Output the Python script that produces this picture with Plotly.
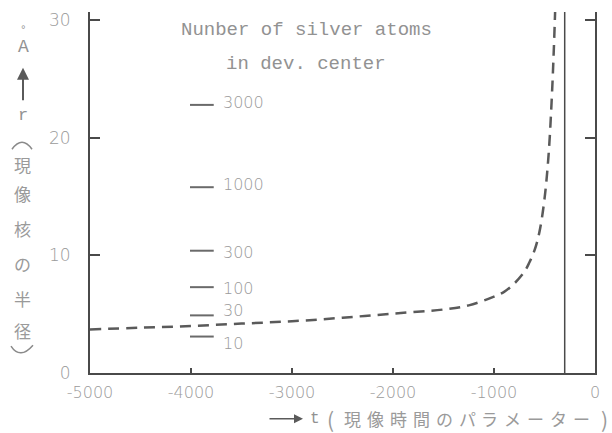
import plotly.graph_objects as go

# ---- data ----
t_vals = [-5000, -4500, -4000, -3500, -3000, -2500, -2000, -1500, -1250, -1000,
          -900, -800, -700, -650, -600, -550, -500, -460, -430, -410, -395]
r_vals = [3.7, 3.85, 4.0, 4.2, 4.4, 4.7, 5.05, 5.4, 5.75, 6.5,
          6.9, 7.6, 8.6, 9.4, 10.4, 12.0, 14.8, 18.5, 23.0, 27.0, 30.7]
asymptote_t = -300
atom_counts = ["3000", "1000", "300", "100", "30", "10"]
atom_r = [22.8, 15.8, 10.4, 7.3, 4.9, 3.1]
atom_label_shift = [2, 3, -2, -1, 5, -7]
x_ticks = [-5000, -4000, -3000, -2000, -1000, 0]
y_ticks = [0, 10, 20, 30]
ylabel_chars = ["現", "像", "核", "の", "半", "径"]
xlabel_chars = ["(", "現", "像", "時", "間", "の", "パ", "ラ", "メ", "ー", "タ", "ー", ")"]

W, H = 612, 433
L, R, T, B = 90, 17, 10, 60
PW, PH = W - L - R, H - T - B


def xp(px):
    return (px - L) / PW


def yp(py):
    return (H - B - py) / PH


AX = "#4a4a4a"
TXT = "#9a9a9a"
MONO = "#929292"

fig = go.Figure()

fig.add_trace(go.Scatter(
    x=t_vals, y=r_vals, mode="lines",
    line=dict(color="#5a5a5a", width=2.5, dash="11px,7px", shape="spline", smoothing=1.0),
    hoverinfo="skip", showlegend=False))

fig.add_trace(go.Scatter(
    x=[asymptote_t, asymptote_t], y=[0, 30.7], mode="lines",
    line=dict(color=AX, width=1.5), hoverinfo="skip", showlegend=False))

# scale marks for number of silver atoms
mx, my = [], []
for r in atom_r:
    mx += [-4010, -3775, None]
    my += [r, r, None]
fig.add_trace(go.Scatter(x=mx, y=my, mode="lines", line=dict(color="#6a6a6a", width=2),
                         hoverinfo="skip", showlegend=False))

ann = []


def txt(px, py, s, family, size, color, **kw):
    d = dict(x=xp(px), y=yp(py), xref="paper", yref="paper", text=s, showarrow=False,
             xanchor="center", yanchor="middle",
             font=dict(family=family, size=size, color=color))
    d.update(kw)
    ann.append(d)


for lab, r, s in zip(atom_counts, atom_r, atom_label_shift):
    ann.append(dict(x=-3700, y=r, xref="x", yref="y", text=lab, showarrow=False,
                    xanchor="left", yanchor="middle", yshift=s,
                    font=dict(family="DejaVu Sans", size=16, color=TXT, weight=200)))

txt(306, 28, "Nunber of silver atoms", "Liberation Mono", 19, MONO)
txt(306, 62, "in dev. center", "Liberation Mono", 19, MONO)

# y-axis title (vertical)
txt(23, 28, "°", "Liberation Mono", 11, MONO)
txt(23, 45, "A", "Liberation Mono", 18, MONO)
ann.append(dict(x=xp(23), y=yp(66), ax=0, ay=34, xref="paper", yref="paper",
                text="", showarrow=True, arrowhead=2,
                arrowsize=1.2, arrowwidth=2, arrowcolor="#5a5a5a"))
txt(23, 114, "r", "Liberation Mono", 17, MONO)
ypos = [163, 193, 228, 263, 298, 330]
for ch, py in zip(ylabel_chars, ypos):
    txt(22, py, ch, "Noto Sans CJK JP", 17, TXT)

# x-axis title
ann.append(dict(x=xp(303), y=yp(419), ax=-35, ay=0, xref="paper", yref="paper",
                text="", showarrow=True, arrowhead=2,
                arrowsize=1.2, arrowwidth=1.5, arrowcolor="#5a5a5a"))
txt(315, 419, "t", "Liberation Mono", 16, MONO)
n = len(xlabel_chars)
for i, ch in enumerate(xlabel_chars):
    px = 330 + i * (604 - 330) / (n - 1)
    size = 21 if i in (0, n - 1) else 17
    txt(px, 419, ch, "Noto Sans CJK JP", size, TXT)

# vertical-text parentheses drawn as arcs
shapes = [
    dict(type="path", xref="paper", yref="paper", line=dict(color="#8a8a8a", width=1.5),
         path=f"M {xp(12)},{yp(148)} Q {xp(22)},{yp(134)} {xp(32)},{yp(148)}"),
    dict(type="path", xref="paper", yref="paper", line=dict(color="#8a8a8a", width=1.5),
         path=f"M {xp(11)},{yp(346)} Q {xp(20)},{yp(360)} {xp(33)},{yp(345)}"),
]

fig.update_layout(
    width=W, height=H, margin=dict(l=L, r=R, t=T, b=B),
    paper_bgcolor="white", plot_bgcolor="white", annotations=ann, shapes=shapes,
    showlegend=False,
    xaxis=dict(range=[-5000, 0], tickvals=x_ticks, ticktext=[str(v) for v in x_ticks],
               showgrid=False, zeroline=False, showline=True, linecolor=AX, linewidth=2,
               ticks="inside", ticklen=5, tickwidth=2, tickcolor=AX, mirror=False,
               ticklabelstandoff=4,
               tickfont=dict(family="DejaVu Sans", size=16, color=TXT, weight=200)),
    yaxis=dict(range=[0, 30.7], tickvals=y_ticks, showgrid=False, zeroline=False,
               showline=True, linecolor=AX, linewidth=2, ticks="inside", ticklen=10,
               tickwidth=2, tickcolor=AX, mirror="ticks", ticklabelstandoff=14,
               tickfont=dict(family="DejaVu Sans", size=17, color=TXT, weight=200)),
)

fig.write_html("out.html", config={"displayModeBar": False},
               post_script="document.body.style.margin='0';")
